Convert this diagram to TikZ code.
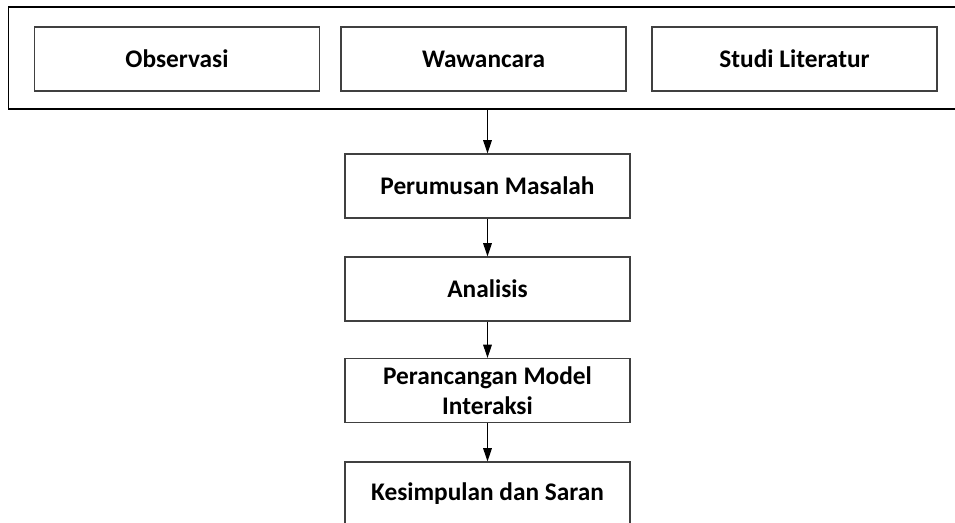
\documentclass[tikz,border=0pt]{standalone}
\usepackage{fontspec}
\setmainfont{Carlito}
\usetikzlibrary{arrows.meta}

\tikzset{
  stage/.style={draw=black!75,line width=0.8pt,minimum width=213.75pt,minimum height=48pt,
    inner sep=0pt,align=center,font=\bfseries\fontsize{19}{22.5}\selectfont},
  flow/.style={-{Triangle[length=10pt,width=6.5pt]},line width=0.8pt}
}

\begin{document}
\begin{tikzpicture}[x=0.75pt,y=-0.75pt]
      \useasboundingbox (0,0) rectangle (955,523);
      \node[draw,line width=0.8pt,minimum width=717.75pt,minimum height=76.5pt,inner sep=0pt] (kumpul) at (487,58) {};
      \node[stage] (obs) at (177,59) {Observasi};
      \node[stage] (waw) at (483.5,59) {Wawancara};
      \node[stage] (lit) at (794.5,59) {Studi Literatur};
      \node[stage] (rumus) at (487.5,186) {Perumusan Masalah};
      \node[stage] (analisis) at (487.5,289) {Analisis};
      \node[stage] (rancang) at (487.5,390.5) {Perancangan Model\\Interaksi};
      \node[stage] (simpul) at (487.5,494) {Kesimpulan dan Saran};
      \draw[flow] (kumpul.south -| rumus) -- (rumus);
      \draw[flow] (rumus) -- (analisis);
      \draw[flow] (analisis) -- (rancang);
      \draw[flow] (rancang) -- (simpul);
    \end{tikzpicture}
\end{document}
